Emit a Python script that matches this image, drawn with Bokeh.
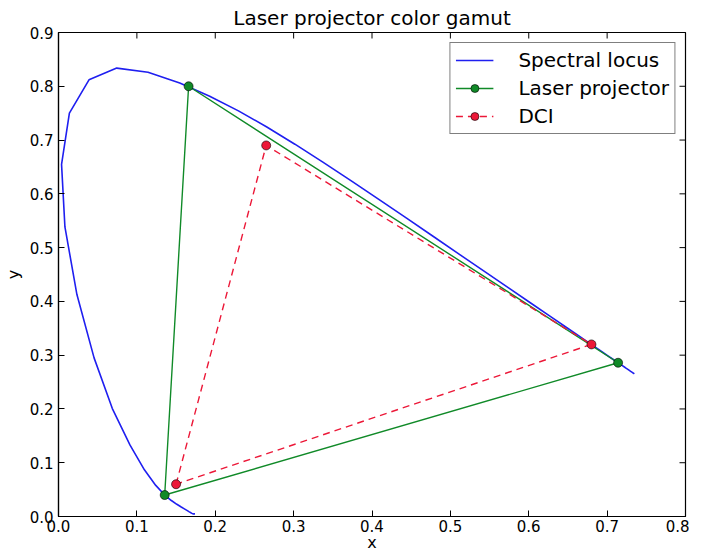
import math
from bokeh.plotting import figure
from bokeh.models import Range1d, FixedTicker, Legend, LegendItem
from bokeh.embed import file_html
from bokeh.resources import INLINE

# CIE 1931 spectral locus (380-700 nm, 5 nm steps)
locus_x = [0.1741, 0.1740, 0.1738, 0.1736, 0.1733, 0.1730, 0.1726, 0.1721, 0.1714, 0.1703,
           0.1689, 0.1669, 0.1644, 0.1611, 0.1566, 0.1510, 0.1440, 0.1355, 0.1241, 0.1096,
           0.0913, 0.0687, 0.0454, 0.0235, 0.0082, 0.0039, 0.0139, 0.0389, 0.0743, 0.1142,
           0.1547, 0.1929, 0.2296, 0.2658, 0.3016, 0.3373, 0.3731, 0.4087, 0.4441, 0.4788,
           0.5125, 0.5448, 0.5752, 0.6029, 0.6270, 0.6482, 0.6658, 0.6801, 0.6915, 0.7006,
           0.7079, 0.7140, 0.7190, 0.7230, 0.7260, 0.7283, 0.7300, 0.7311, 0.7320, 0.7327,
           0.7334, 0.7340, 0.7344, 0.7346, 0.7347]
locus_y = [0.0050, 0.0050, 0.0049, 0.0049, 0.0048, 0.0048, 0.0048, 0.0048, 0.0051, 0.0058,
           0.0069, 0.0086, 0.0109, 0.0138, 0.0177, 0.0227, 0.0297, 0.0399, 0.0578, 0.0868,
           0.1327, 0.2007, 0.2950, 0.4127, 0.5384, 0.6548, 0.7502, 0.8120, 0.8338, 0.8262,
           0.8059, 0.7816, 0.7543, 0.7243, 0.6923, 0.6589, 0.6245, 0.5896, 0.5547, 0.5202,
           0.4866, 0.4544, 0.4242, 0.3965, 0.3725, 0.3514, 0.3340, 0.3197, 0.3083, 0.2993,
           0.2920, 0.2859, 0.2809, 0.2770, 0.2740, 0.2717, 0.2700, 0.2689, 0.2680, 0.2673,
           0.2666, 0.2660, 0.2656, 0.2654, 0.2653]

# Laser projector primaries (closed triangle)
laser_x = [0.1355, 0.1660, 0.7140, 0.1355]
laser_y = [0.0399, 0.8000, 0.2859, 0.0399]

# DCI primaries (closed triangle)
dci_x = [0.150, 0.265, 0.680, 0.150]
dci_y = [0.060, 0.690, 0.320, 0.060]

x_ticks = [0.0, 0.1, 0.2, 0.3, 0.4, 0.5, 0.6, 0.7, 0.8]
x_tick_labels = ["0.0", "0.1", "0.2", "0.3", "0.4", "0.5", "0.6", "0.7", "0.8"]
y_ticks = [0.0, 0.1, 0.2, 0.3, 0.4, 0.5, 0.6, 0.7, 0.8, 0.9]
y_tick_labels = ["0.0", "0.1", "0.2", "0.3", "0.4", "0.5", "0.6", "0.7", "0.8", "0.9"]

FONT = "DejaVu Sans"
BLUE = "#1f1ff0"
GREEN = "#108a28"
RED = "#ec1838"

p = figure(width=689, height=554, x_range=Range1d(x_ticks[0], x_ticks[-1]),
           y_range=Range1d(y_ticks[0], y_ticks[-1]),
           output_backend="svg", toolbar_location=None,
           title="Laser projector color gamut",
           min_border_left=54, min_border_right=4, min_border_top=32, min_border_bottom=37)

p.background_fill_color = "white"
p.border_fill_color = "white"
p.grid.visible = False
p.outline_line_color = "black"
p.outline_line_width = 1.2

p.title.text_font = FONT
p.title.text_font_size = "20px"
p.title.text_font_style = "normal"
p.title.text_color = "black"
p.title.align = "center"
p.title.standoff = 5

def style_axis(ax, ticks, labels):
    ax.ticker = FixedTicker(ticks=ticks)
    ax.major_label_overrides = {t: l for t, l in zip(ticks, labels)}
    ax.major_tick_in = 6
    ax.major_tick_out = 0
    ax.minor_tick_line_color = None
    ax.axis_line_color = "black"
    ax.axis_line_width = 1.2
    ax.major_tick_line_color = "black"
    ax.major_tick_line_width = 1
    ax.major_label_text_font = FONT
    ax.major_label_text_color = "black"
    ax.major_label_text_font_size = "15px"

xa = p.xaxis[0]
ya = p.yaxis[0]
style_axis(xa, x_ticks, x_tick_labels)
style_axis(ya, y_ticks, y_tick_labels)
xa.major_label_standoff = 3
ya.major_label_standoff = 5
xa.axis_label = "x"
ya.axis_label = "y"
for ax in (xa, ya):
    ax.axis_label_text_font = FONT
    ax.axis_label_text_font_size = "16px"
    ax.axis_label_text_font_style = "normal"
    ax.axis_label_text_color = "black"
xa.axis_label_standoff = -2
ya.axis_label_standoff = 4

# inward ticks on the top and right frame edges
p.ray(x=x_ticks, y=[y_ticks[-1]] * len(x_ticks), length=6, length_units="screen",
      angle=-math.pi / 2, line_color="black", line_width=1)
p.ray(x=[x_ticks[-1]] * len(y_ticks), y=y_ticks, length=6, length_units="screen",
      angle=math.pi, line_color="black", line_width=1)

r_locus = p.line(locus_x, locus_y, line_color=BLUE, line_width=1.6)

r_laser_l = p.line(laser_x, laser_y, line_color=GREEN, line_width=1.4)
r_laser_m = p.scatter(laser_x[:3], laser_y[:3], marker="circle", size=9,
                      fill_color=GREEN, line_color="black", line_width=0.6)

r_dci_l = p.line(dci_x, dci_y, line_color=RED, line_width=1.4, line_dash="7 5")
r_dci_m = p.scatter(dci_x[:3], dci_y[:3], marker="circle", size=9,
                    fill_color=RED, line_color="black", line_width=0.6)

legend = Legend(items=[
    LegendItem(label="Spectral locus", renderers=[r_locus]),
    LegendItem(label="Laser projector", renderers=[r_laser_l, r_laser_m]),
    LegendItem(label="DCI", renderers=[r_dci_l, r_dci_m]),
], location="top_right")
legend.label_text_font = FONT
legend.label_text_font_size = "20px"
legend.label_text_color = "black"
legend.border_line_color = "black"
legend.border_line_width = 1
legend.background_fill_color = "white"
legend.background_fill_alpha = 1
legend.margin = 10
legend.padding = 5
legend.spacing = 4
legend.glyph_width = 38
legend.glyph_height = 20
legend.label_height = 20
legend.label_standoff = 25
p.add_layout(legend, "center")

open("out.html", "w").write(file_html(p, INLINE))
